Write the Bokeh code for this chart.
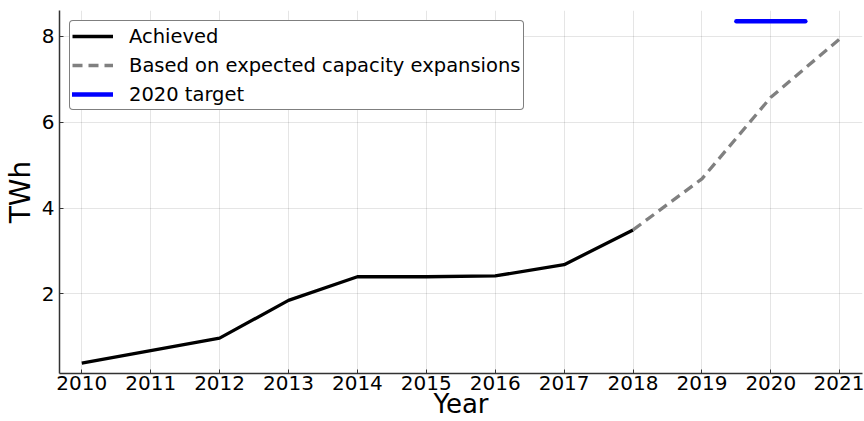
from bokeh.plotting import figure
from bokeh.models import Range1d, FixedTicker, Legend, LegendItem
from bokeh.embed import file_html
from bokeh.resources import INLINE

# Electricity generation (TWh)
years_achieved = [2010, 2011, 2012, 2013, 2014, 2015, 2016, 2017, 2018]
twh_achieved = [0.39, 0.68, 0.97, 1.85, 2.40, 2.40, 2.42, 2.68, 3.49]

years_expected = [2018, 2019, 2020, 2021]
twh_expected = [3.49, 4.68, 6.58, 7.94]

target_years = [2019.5, 2020.5]
target_twh = [8.35, 8.35]

x_ticks = list(range(2010, 2022))
y_ticks = [2, 4, 6, 8]

FONT = "DejaVu Sans"

p = figure(
    width=864, height=421,
    x_range=Range1d(2009.677, 2021.33),
    y_range=Range1d(0.147, 8.6),
    output_backend="svg", toolbar_location=None,
    min_border_left=57, min_border_right=2,
    min_border_top=10, min_border_bottom=48,
    background_fill_color="white", border_fill_color="white",
    outline_line_color=None,
)

r_ach = p.line(years_achieved, twh_achieved, line_color="black", line_width=3.3)
r_exp = p.line(years_expected, twh_expected, line_color="#808080", line_width=3.3,
               line_dash="10 6")
r_tgt = p.line(target_years, target_twh, line_color="#0000ff", line_width=4.5,
               line_cap="round")

for ax in (p.xaxis[0], p.yaxis[0]):
    ax.axis_line_color = "#333333"
    ax.axis_line_width = 1.5
    ax.major_tick_in = 4
    ax.major_tick_out = 0
    ax.major_tick_line_color = "#333333"
    ax.minor_tick_line_color = None
    ax.major_label_text_font = FONT
    ax.major_label_text_font_size = "20px"
    ax.major_label_text_color = "black"
    ax.axis_label_text_font = FONT
    ax.axis_label_text_font_style = "normal"
    ax.axis_label_text_color = "black"

p.xaxis.ticker = FixedTicker(ticks=x_ticks)
p.yaxis.ticker = FixedTicker(ticks=y_ticks)
p.xaxis.axis_label = "Year"
p.yaxis.axis_label = "TWh"
p.xaxis.axis_label_text_font_size = "26px"
p.yaxis.axis_label_text_font_size = "28px"
p.xaxis.major_label_standoff = 2
p.xaxis.axis_label_standoff = -4
p.yaxis.major_label_standoff = 5
p.yaxis.axis_label_standoff = 2

p.xgrid.ticker = FixedTicker(ticks=x_ticks)
p.ygrid.ticker = FixedTicker(ticks=y_ticks)
for g in (p.xgrid[0], p.ygrid[0]):
    g.grid_line_color = "black"
    g.grid_line_alpha = 0.1
    g.grid_line_width = 1

legend = Legend(
    items=[
        LegendItem(label="Achieved", renderers=[r_ach]),
        LegendItem(label="Based on expected capacity expansions", renderers=[r_exp]),
        LegendItem(label="2020 target", renderers=[r_tgt]),
    ],
    location="top_left",
    margin=10,
    padding=2,
    spacing=3,
    glyph_width=41,
    glyph_height=26,
    label_height=26,
    label_standoff=16,
    label_text_font=FONT,
    label_text_font_size="19.5px",
    label_text_color="black",
    border_line_color="black",
    border_line_width=1,
    border_radius=4,
    background_fill_color="white",
    background_fill_alpha=1.0,
)
p.add_layout(legend, "center")

open("out.html", "w").write(file_html(p, INLINE))
